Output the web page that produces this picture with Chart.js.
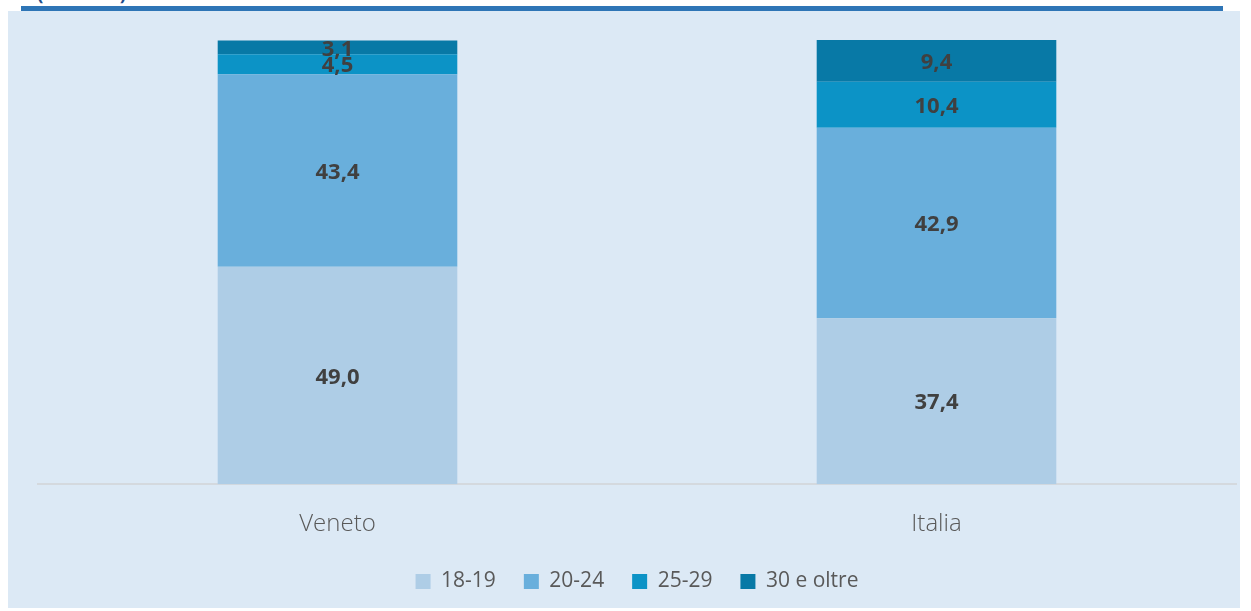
<!DOCTYPE html>
<html>
<head>
<meta charset="utf-8">
<script src="https://cdn.jsdelivr.net/npm/chart.js@4"></script>
<style>
  body { margin: 0; background: #fff; width: 1251px; height: 611px; overflow: hidden; position: relative; font-family: "Open Sans", sans-serif; }
  .headTitle { position: absolute; left: 37px; top: -20px; font-size: 19px; font-weight: bold; color: #1f4e8c; }
  .topLine { position: absolute; left: 21px; top: 6px; width: 1202px; height: 5px; background: #2e75b6; }
  .panel { position: absolute; left: 8px; top: 11px; width: 1232px; height: 597px; background: #dce9f5; }
</style>
</head>
<body>
<div class="headTitle">(valori %)</div>
<div class="topLine"></div>
<div class="panel"><canvas id="myChart" width="1232" height="597"></canvas></div>
<script>
var categories = ['Veneto', 'Italia'];
var seriesNames = ['18-19', '20-24', '25-29', '30 e oltre'];
var age1819 = [49.0, 37.4];
var age2024 = [43.4, 42.9];
var age2529 = [4.5, 10.4];
var age30 = [3.1, 9.4];
var colors = ['#aecde6', '#69afdc', '#0c93c6', '#0879a6'];

var values = [age1819, age2024, age2529, age30];

// labels in the middle of each segment
var segmentLabels = {
    id: 'segmentLabels',
    afterDatasetsDraw: function(chart) {
        var ctx = chart.ctx;
        ctx.save();
        ctx.font = 'bold 22px "Open Sans"';
        ctx.fillStyle = '#404040';
        ctx.textAlign = 'center';
        ctx.textBaseline = 'middle';
        chart.data.datasets.forEach(function(ds, i) {
            chart.getDatasetMeta(i).data.forEach(function(bar, j) {
                var y = (bar.y + bar.base) / 2;
                ctx.fillText(ds.data[j].toFixed(1).replace('.', ','), bar.x, y + 2);
            });
        });
        ctx.restore();
    }
};

var data = {
    labels: categories,
    datasets: seriesNames.map(function(name, i) {
        return {
            label: name,
            data: values[i],
            backgroundColor: colors[i],
            hoverBackgroundColor: colors[i],
            barPercentage: 0.4,
            categoryPercentage: 1
        };
    })
};

var myChart = new Chart(document.getElementById('myChart'), {
    type: 'bar',
    data: data,
    plugins: [segmentLabels],
    options: {
        responsive: false,
        animation: false,
        layout: { padding: { left: 30, right: 4, top: 29, bottom: 6 } },
        scales: {
            x: {
                stacked: true,
                grid: { display: false },
                border: { color: '#d4d9de', width: 2 },
                ticks: { color: '#595959', font: { family: '"Open Sans"', size: 24, weight: 300 }, padding: 18 },
                afterFit: function(scale) { scale.height -= 14; }
            },
            y: {
                stacked: true,
                display: false,
                min: 0,
                max: 100.1
            }
        },
        plugins: {
            tooltip: { enabled: false },
            legend: {
                position: 'bottom',
                labels: {
                    color: '#595959',
                    font: { family: '"Open Sans"', size: 21 },
                    boxWidth: 15,
                    boxHeight: 15,
                    padding: 28
                }
            }
        }
    }
});
</script>
</body>
</html>
